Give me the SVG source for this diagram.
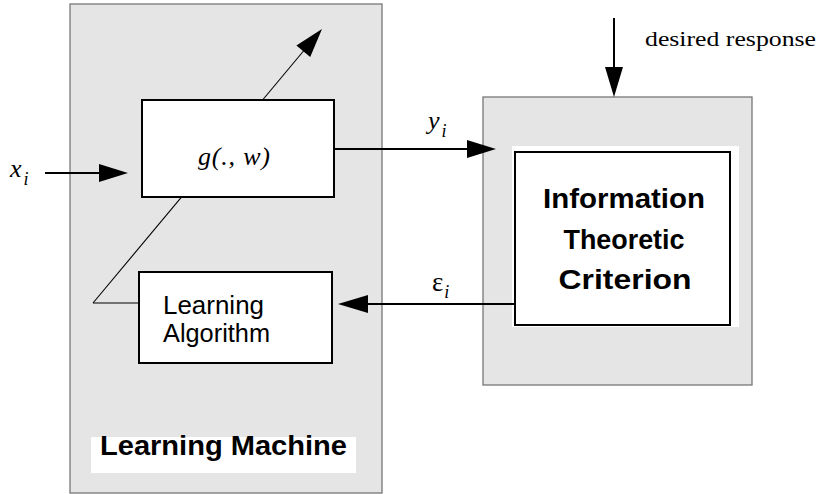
<svg xmlns="http://www.w3.org/2000/svg" width="823" height="494" viewBox="0 0 823 494">
<style>
.grey{fill:#e5e5e5;stroke:#777;stroke-width:1.3}
.wbox{fill:#fff;stroke:#000;stroke-width:2}
.ln{stroke:#000;stroke-width:2;fill:none}
.thin{stroke:#000;stroke-width:1.1;fill:none}
.head{fill:#000}
.math{font-family:"Liberation Serif",serif;font-style:italic;font-size:26px;fill:#000}
.sub{font-family:"Liberation Serif",serif;font-style:italic;font-size:18px;fill:#000}
.sans{font-family:"Liberation Sans",Arial,sans-serif;font-size:25px;fill:#000}
.bold{font-family:"Liberation Sans",Arial,sans-serif;font-weight:bold;fill:#000}
</style>
<rect width="823" height="494" fill="#fff"/>
<g id="learning-machine">
<rect class="grey" x="70" y="4" width="312" height="489"/>
<rect x="91" y="437" width="265" height="36" fill="#fff"/>
<text class="bold" x="100" y="455" font-size="28" textLength="247" lengthAdjust="spacingAndGlyphs">Learning Machine</text>
</g>
<g id="criterion-block">
<rect class="grey" x="483" y="97" width="269" height="288"/>
<rect x="512" y="146" width="227" height="181" fill="#fff"/>
</g>
<g id="connectors">
<line class="thin" x1="93" y1="303" x2="306" y2="48"/>
<polygon class="head" points="322,29 310.2,57 296.4,45.4"/>
<line class="thin" x1="93" y1="303" x2="139" y2="303"/>
<line class="ln" x1="45" y1="173" x2="100" y2="173"/>
<polygon class="head" points="128,173 99,164 99,182"/>
<line class="ln" x1="334" y1="149" x2="468" y2="149"/>
<polygon class="head" points="496,149 467,140 467,158"/>
<line class="ln" x1="515" y1="304" x2="366" y2="304"/>
<polygon class="head" points="338,304 368,295 368,313"/>
<line class="ln" x1="614" y1="18" x2="614" y2="68"/>
<polygon class="head" points="614,97 605,67 623,67"/>
</g>
<g id="g-block">
<rect class="wbox" x="142" y="100" width="192" height="97"/>
<text class="math" x="198" y="165" textLength="72" lengthAdjust="spacing">g(., w)</text>
</g>
<g id="learning-algorithm">
<rect class="wbox" x="139" y="272" width="193" height="91"/>
<text class="sans" x="163" y="314" textLength="101" lengthAdjust="spacingAndGlyphs">Learning</text>
<text class="sans" x="163" y="342" textLength="107" lengthAdjust="spacingAndGlyphs">Algorithm</text>
</g>
<g id="information-theoretic-criterion">
<rect class="wbox" x="515" y="152" width="215" height="173"/>
<text class="bold" font-size="27" x="624" y="208" text-anchor="middle" textLength="162" lengthAdjust="spacingAndGlyphs">Information</text>
<text class="bold" font-size="27" x="624" y="249" text-anchor="middle" textLength="121" lengthAdjust="spacingAndGlyphs">Theoretic</text>
<text class="bold" font-size="27" x="625" y="289" text-anchor="middle" textLength="133" lengthAdjust="spacingAndGlyphs">Criterion</text>
</g>
<g id="labels">
<text class="math" x="10" y="177">x<tspan class="sub" dx="2" dy="8">i</tspan></text>
<text class="math" x="428" y="129">y<tspan class="sub" dx="2" dy="8">i</tspan></text>
<text x="432" y="291" font-family="Liberation Serif,serif" font-size="27" fill="#000">ε<tspan class="sub" dx="1" dy="7">i</tspan></text>
<text x="645" y="46" font-family="Liberation Serif,serif" font-size="21" fill="#000" textLength="171" lengthAdjust="spacingAndGlyphs">desired response</text>
</g>
</svg>
